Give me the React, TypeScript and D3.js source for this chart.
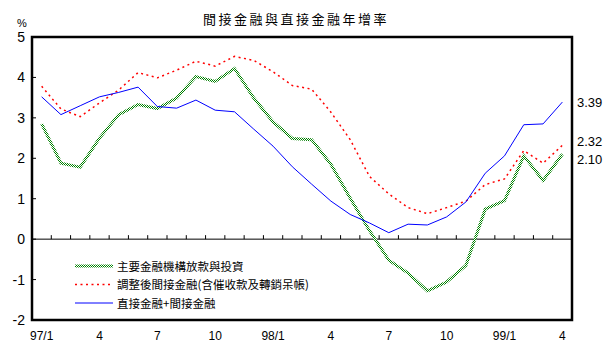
import React from "react";
import { scaleBand, scaleLinear, line } from "d3";

const width = 614;
const height = 356;
const plot = { left: 32, right: 572, top: 37, bottom: 320 };

// months 97/1 .. 99/4
const months = [
  "97/1", "97/2", "97/3", "97/4", "97/5", "97/6", "97/7", "97/8", "97/9", "97/10", "97/11", "97/12",
  "98/1", "98/2", "98/3", "98/4", "98/5", "98/6", "98/7", "98/8", "98/9", "98/10", "98/11", "98/12",
  "99/1", "99/2", "99/3", "99/4",
];

// 主要金融機構放款與投資
const loans = [2.85, 1.88, 1.78, 2.5, 3.08, 3.33, 3.23, 3.49, 4.02, 3.9, 4.22, 3.49, 2.9, 2.49, 2.46, 1.85, 1.01, 0.21, -0.52, -0.84, -1.28, -1.06, -0.65, 0.74, 0.95, 2.06, 1.45, 2.1];
// 調整後間接金融(含催收款及轉銷呆帳)
const adjusted = [3.78, 3.22, 3.03, 3.37, 3.69, 4.12, 3.99, 4.18, 4.4, 4.28, 4.52, 4.42, 4.14, 3.8, 3.71, 3.14, 2.46, 1.55, 1.12, 0.78, 0.63, 0.78, 0.94, 1.35, 1.49, 2.19, 1.88, 2.32];
// 直接金融+間接金融
const total = [3.52, 3.08, 3.3, 3.52, 3.63, 3.76, 3.28, 3.24, 3.44, 3.19, 3.15, 2.72, 2.3, 1.79, 1.36, 0.94, 0.61, 0.4, 0.16, 0.37, 0.35, 0.55, 0.92, 1.63, 2.06, 2.83, 2.85, 3.39];

const yTicks = [-2, -1, 0, 1, 2, 3, 4, 5];

// green one uses a checker pattern like the old excel hatch
const series = [
  { name: "主要金融機構放款與投資", values: loans, color: "url(#checker)", width: 3, dash: undefined, labelDy: 5 },
  { name: "調整後間接金融(含催收款及轉銷呆帳)", values: adjusted, color: "#ff0000", width: 1.5, dash: "2 3.5", labelDy: -4 },
  { name: "直接金融+間接金融", values: total, color: "#0000ff", width: 1, dash: undefined, labelDy: 0 },
];

const tickLabel = (m: string) => {
  const [yy, mm] = m.split("/");
  return mm === "1" ? m : mm;
};

const cjk = "'Noto Sans CJK TC', sans-serif";
const latin = "'Liberation Sans', Arial, sans-serif";

export default function App() {
  const xScale = scaleBand<string>().domain(months).range([plot.left, plot.right]).padding(0);
  const yScale = scaleLinear().domain([-2, 5]).range([plot.bottom, plot.top]);
  const cx = (i: number) => (xScale(months[i]) as number) + xScale.bandwidth() / 2;
  const y0 = yScale(0);

  const path = line<number>()
    .x((_, i) => cx(i))
    .y((d) => yScale(d));

  const last = months.length - 1;

  return (
    <svg width={width} height={height} style={{ position: "absolute", left: 0, top: 0 }}>
      <defs>
        <pattern id="checker" patternUnits="userSpaceOnUse" width={2} height={2}>
          <rect width={2} height={2} fill="white" />
          <rect width={1} height={1} fill="#008000" />
          <rect x={1} y={1} width={1} height={1} fill="#008000" />
        </pattern>
      </defs>
      <rect width="100%" height="100%" fill="white" />

      <text x={296} y={24} fontSize="13" fontFamily={cjk} textAnchor="middle" letterSpacing="2.5">
        間接金融與直接金融年增率
      </text>
      <text x={22} y={27} fontSize="11" fontFamily={latin} textAnchor="middle">%</text>

      {/* y axis labels + inward ticks */}
      {yTicks.map((t) => (
        <g key={t}>
          <text x={25} y={yScale(t) + 5} fontSize="14" fontFamily={latin} textAnchor="end">{t}</text>
          <line x1={plot.left} x2={plot.left + 4} y1={yScale(t)} y2={yScale(t)} stroke="black" />
        </g>
      ))}

      {/* zero line with month ticks */}
      <line x1={plot.left} x2={plot.right} y1={y0} y2={y0} stroke="black" />
      {months.slice(1).map((m) => (
        <line key={m} x1={xScale(m)} x2={xScale(m)} y1={y0} y2={y0 - 4} stroke="black" />
      ))}

      {months.map((m, i) =>
        i % 3 === 0 ? (
          <text key={m} x={cx(i)} y={340} fontSize="12" fontFamily={latin} textAnchor="middle">
            {tickLabel(m)}
          </text>
        ) : null
      )}

      {series.map((s) => (
        <path key={s.name} d={path(s.values) as string} fill="none" stroke={s.color}
          strokeWidth={s.width} strokeDasharray={s.dash} />
      ))}

      {/* plot frame */}
      <rect x={plot.left} y={plot.top} width={plot.right - plot.left} height={plot.bottom - plot.top}
        fill="none" stroke="black" strokeWidth={2.5} />

      {/* end labels */}
      {series.map((s) => (
        <text key={s.name} x={577} y={yScale(s.values[last]) + 5 + s.labelDy} fontSize="13" fontFamily={latin}>
          {s.values[last].toFixed(2)}
        </text>
      ))}

      {/* legend */}
      {series.map((s, i) => (
        <g key={s.name} transform={`translate(75, ${266 + i * 18.5})`}>
          <line x1={0} x2={38} y1={0} y2={0} stroke={s.color} strokeWidth={s.width} strokeDasharray={s.dash} />
          <text x={42} y={4.5} fontSize="11.5" fontFamily={cjk}>{s.name}</text>
        </g>
      ))}
    </svg>
  );
}
